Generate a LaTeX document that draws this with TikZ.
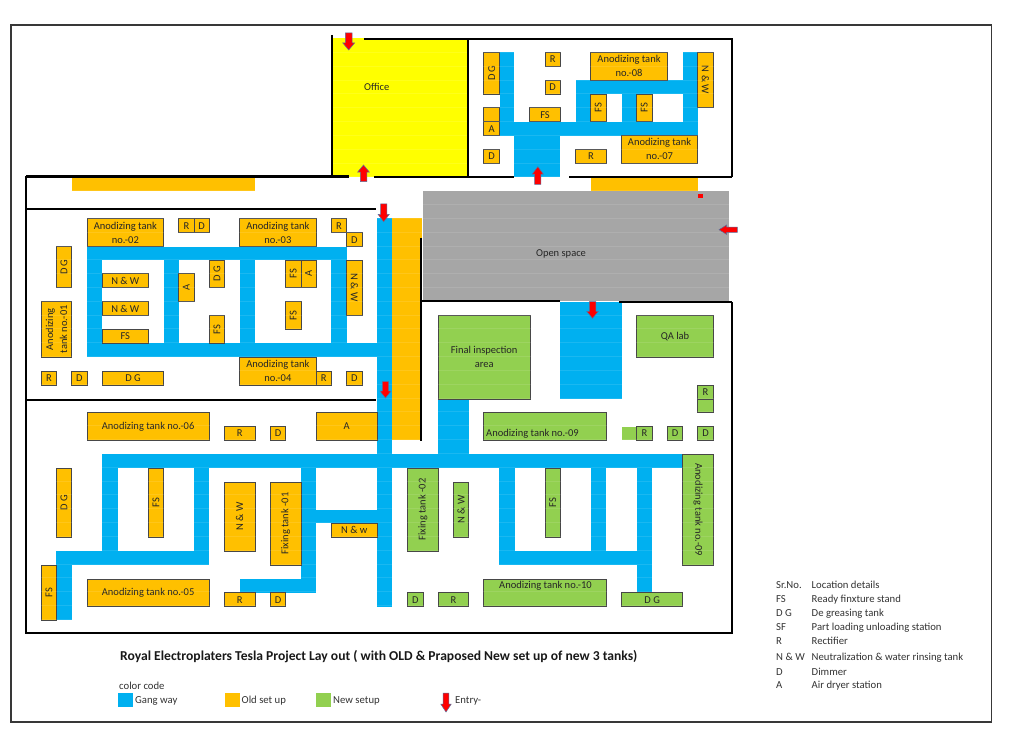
\documentclass[tikz,border=0pt]{standalone}
\usepackage{fontspec}
\setmainfont{Carlito}
\definecolor{gblue}{HTML}{00B0F0}
\definecolor{oldc}{HTML}{FFC000}
\definecolor{newc}{HTML}{92D050}
\definecolor{yelc}{HTML}{FFFF00}
\definecolor{greyc}{HTML}{A6A6A6}
\definecolor{redc}{HTML}{FF0000}
\definecolor{arrowedge}{HTML}{5B6F9C}
\tikzset{
  tankbase/.style={draw=black!72,line width=0.9pt,inner sep=0pt,outer sep=0pt,align=center,
    font=\fontsize{10.5}{14}\selectfont,text=black!85},
  old/.style={tankbase,fill=oldc},
  new/.style={tankbase,fill=newc},
  wall/.style={line width=2.2pt,black,line cap=square},
  frameline/.style={line width=1.4pt,black!78},
  label/.style={inner sep=0pt,font=\fontsize{10.5}{14}\selectfont,text=black!85,align=center},
  legend/.style={inner sep=0pt,anchor=west,text height=7.5pt,text depth=2.5pt,font=\fontsize{10.7}{12}\selectfont,text=black!80},
  redarrow/.style={fill=redc,draw=arrowedge,line width=0.5pt,line join=miter},
}
% style, name, angle, x1, y1, x2, y2, text
\newcommand\tk[8]{%
  \pgfmathsetmacro\tkw{#6-(#4)}\pgfmathsetmacro\tkh{#7-(#5)}%
  \pgfmathsetmacro\tkx{(#4+#6)/2}\pgfmathsetmacro\tky{(#5+#7)/2}%
  \ifnum#3=0\relax
    \node[#1,minimum width=\tkw pt,minimum height=\tkh pt] (#2) at (\tkx,\tky) {#8};
  \else
    \node[#1,rotate=#3,minimum width=\tkh pt,minimum height=\tkw pt] (#2) at (\tkx,\tky) {#8};
  \fi}
\newcommand\gw[4]{\fill[gblue] (#1,#2) rectangle (#3,#4);}
% tip x, tip y, direction angle, overall length, head width
\newcommand\redarr[5]{%
  \begin{scope}[shift={(#1,#2)},rotate=#3]
    \draw[redarrow] (0,0) -- (-#4*0.42,{#5/2}) -- (-#4*0.42,{#5*0.28}) -- (-#4,{#5*0.28})
      -- (-#4,{-#5*0.28}) -- (-#4*0.42,{-#5*0.28}) -- (-#4*0.42,{-#5/2}) -- cycle;
  \end{scope}}
\begin{document}
\begin{tikzpicture}[x=1pt,y=-1pt]
\useasboundingbox (0,0) rectangle (1013,751);
\fill[white] (0,0) rectangle (1013,751);
\draw[frameline] (11,25) rectangle (991.5,722);
% area fills
\fill[yelc] (331.7,38.3) rectangle (467.7,176.7);
\fill[greyc] (422.7,190.7) rectangle (728.7,301);
\fill[oldc] (71.7,177.3) rectangle (255,190.7);
\fill[oldc] (590.7,176.7) rectangle (697.7,190.7);
\fill[oldc] (392,218.3) rectangle (421.7,440.3);
% gang ways: top right room
\gw{499.7}{52.3}{514.3}{135.7}
\gw{499.7}{121.7}{697.7}{135.7}
\gw{514.3}{135}{560.3}{176.7}
\gw{575.7}{80}{697.7}{94}
\gw{575.7}{80}{590.7}{122}
\gw{621.7}{94}{636.7}{122}
\gw{682.7}{52.3}{697.7}{135}
% gang ways: left room
\gw{87}{246.7}{346.7}{260}
\gw{87}{343.3}{392}{357}
\gw{87}{246.7}{102.3}{357}
\gw{163.7}{246.7}{178.7}{357}
\gw{239.7}{246.7}{255}{357}
\gw{331.3}{246.7}{346.7}{357}
\gw{377.3}{218.3}{392}{606.7}
% gang ways: lower hall
\gw{102.3}{454.3}{682.7}{468}
\gw{102.3}{454.3}{117.7}{551}
\gw{194}{454.3}{209.3}{565}
\gw{56.3}{551}{209.3}{565}
\gw{56.3}{551}{71.7}{620}
\gw{301}{454.3}{316}{592.7}
\gw{239.7}{579}{316}{592.7}
\gw{316}{509.7}{377.3}{523.3}
\gw{438.3}{399}{468.7}{454.3}
\gw{560.3}{301.7}{621.7}{398.7}
\gw{499.3}{454.3}{514.7}{565}
\gw{499.3}{551}{652}{565}
\gw{591}{454.3}{606}{551}
\gw{637}{454.3}{652}{592.7}
% top right room
\tk{old}{dg1}{90}{483.7}{52.3}{499.7}{94}{D G}
\tk{old}{r1}{0}{545}{52.3}{560.3}{66.3}{R}
\tk{old}{d1}{0}{545}{80}{560.3}{94}{D}
\tk{old}{at8}{0}{590.7}{52.3}{667.3}{80}{Anodizing tank\\no.-08}
\tk{old}{nw1}{-90}{697.7}{52.3}{713.3}{107.7}{N \& W}
\tk{old}{fs1}{0}{529.7}{107.7}{560.3}{121.7}{FS}
\tk{old}{fs2}{90}{590.7}{94}{606}{121.7}{FS}
\tk{old}{fs3}{90}{636.7}{94}{652}{121.7}{FS}
\tk{old}{ab1}{0}{483.7}{107.7}{499.7}{121.7}{}
\tk{old}{a1}{0}{483.7}{121.7}{499.7}{135.7}{A}
\tk{old}{d2}{0}{483.7}{149}{499.7}{163.3}{D}
\tk{old}{r2}{0}{575.7}{149}{606}{163.3}{R}
\tk{old}{at7}{0}{621.3}{135}{697.7}{163.3}{Anodizing tank\\no.-07}
% left room
\tk{old}{at2}{0}{87}{218.7}{163.7}{246.7}{Anodizing tank\\no.-02}
\tk{old}{r3}{0}{178.7}{218.7}{194}{232.7}{R}
\tk{old}{d3}{0}{194}{218.7}{209.3}{232.7}{D}
\tk{old}{at3}{0}{239.7}{218.7}{316}{246.7}{Anodizing tank\\no.-03}
\tk{old}{r4}{0}{331.3}{218.7}{346.7}{232.7}{R}
\tk{old}{d4}{0}{346.7}{232.7}{362}{246.7}{D}
\tk{old}{dg2}{90}{56.3}{246.7}{71.7}{287.7}{D G}
\tk{old}{at1}{90}{41.3}{301.7}{71.7}{357}{Anodizing\\tank no.-01}
\tk{old}{nw2}{0}{102.3}{273.7}{148.3}{287.7}{N \& W}
\tk{old}{nw3}{0}{102.3}{301.7}{148.3}{315.7}{N \& W}
\tk{old}{fs4}{0}{102.3}{329.3}{148.3}{343.3}{FS}
\tk{old}{a2}{90}{178.7}{273.7}{194}{301.7}{A}
\tk{old}{dg3}{90}{209.3}{260}{224.7}{287.7}{D G}
\tk{old}{fs5}{90}{209.3}{315.7}{224.7}{343.3}{FS}
\tk{old}{fs6}{90}{285.7}{260}{301}{287.7}{FS}
\tk{old}{a3}{90}{301}{260}{316}{287.7}{A}
\tk{old}{fs7}{90}{285.7}{301.7}{301}{329.3}{FS}
\tk{old}{nw4}{-90}{346.7}{260}{362}{315.7}{N \& W}
\tk{old}{r5}{0}{41.3}{371}{56.7}{385}{R}
\tk{old}{d5}{0}{71.7}{371}{87}{385}{D}
\tk{old}{dg4}{0}{102.3}{371}{163.7}{385}{D G}
\tk{old}{at4}{0}{239.7}{357}{316}{385}{Anodizing tank\\no.-04}
\tk{old}{r6}{0}{316}{371}{331.3}{385}{R}
\tk{old}{d6}{0}{346.7}{371}{362}{385}{D}
% lower hall, old set up
\tk{old}{at6}{0}{87}{412.7}{209.3}{440.3}{Anodizing tank no.-06}
\tk{old}{r7}{0}{224.3}{426.7}{255}{440.3}{R}
\tk{old}{d7}{0}{270.3}{426.7}{285.7}{440.3}{D}
\tk{old}{a4}{0}{316}{412.7}{377.3}{440.3}{A}
\tk{old}{dg5}{90}{56.3}{468}{71.7}{537.3}{D G}
\tk{old}{fs8}{90}{148.3}{468}{163.7}{537.3}{FS}
\tk{old}{nw5}{90}{224.3}{482}{255}{551}{N \& W}
\tk{old}{fx1}{90}{270.3}{482}{301}{565}{Fixing tank -01}
\tk{old}{nw6}{0}{331.3}{523.3}{377.3}{537.3}{N \& w}
\tk{old}{r8}{0}{224.3}{592.7}{255}{606.7}{R}
\tk{old}{d8}{0}{270.3}{592.7}{285.7}{606.7}{D}
\tk{old}{at5}{0}{87}{579}{209.3}{606.7}{Anodizing tank no.-05}
\tk{old}{fs9}{90}{41.3}{565}{56.7}{620}{FS}
% new set up
\tk{new}{fia}{0}{438.3}{315.7}{530}{399}{Final inspection\\area}
\tk{new}{qa}{0}{636.7}{315.7}{713.3}{357}{QA lab}
\tk{new}{r9}{0}{697.7}{385}{713.3}{399}{R}
\tk{new}{bl9}{0}{697.7}{399}{713.3}{412.7}{}
\tk{new}{at9}{0}{483.7}{412.7}{606.3}{440.3}{}
\fill[newc] (621.7,426.7) rectangle (636.7,440.3);
\tk{new}{r10}{0}{636.7}{426.7}{652}{440.3}{R}
\tk{new}{d10}{0}{667.3}{426.7}{682.7}{440.3}{D}
\tk{new}{d11}{0}{697.7}{426.7}{713.3}{440.3}{D}
\tk{new}{at9v}{-90}{682.7}{454.3}{713.3}{565}{Anodizing tank no.-09}
\tk{new}{fs10}{90}{545}{468}{560.3}{537.3}{FS}
\tk{new}{fx2}{90}{407.7}{468}{438.3}{551}{Fixing tank -02}
\tk{new}{nw7}{90}{453.3}{482}{468.7}{537.3}{N \& W}
\tk{new}{d12}{0}{407.7}{592.7}{423}{606.7}{D}
\tk{new}{r12}{0}{438.3}{592.7}{468.7}{606.7}{R}
\tk{new}{at10}{0}{483.7}{579}{606.3}{606.7}{}
\tk{new}{dg6}{0}{621.7}{592.7}{682.7}{606.7}{D G}
% faint sheet row lines
\foreach \k in {0,...,41}{
  \pgfmathsetmacro\ry{52.3+13.83*\k}
  \draw[white,opacity=0.1,line width=0.8pt] (26,\ry) -- (732,\ry);
}
% texts placed off-centre or on plain areas
\node[label,anchor=west] (at9t) at (486,433.6) {Anodizing tank no.-09};
\node[label] (at10t) at (545.5,586) {Anodizing tank no.-10};
\node[label] (off) at (376.7,87.3) {Office};
\node[label] (open) at (561,253.5) {Open space};
% walls
\draw[wall] (331.7,35) -- (331.7,177);
\draw[wall] (364.3,39) -- (732,39) -- (732,177);
\draw[wall] (468.3,39) -- (468.3,177);
\draw[wall] (569.3,176.7) -- (732,176.7);
\draw[wall] (374.3,177) -- (514,177);
\draw[wall] (26,176.5) -- (349.3,176.5);
\draw[wall] (26,209.3) -- (376,209.3);
\draw[wall] (26,399.7) -- (376,399.7);
\draw[wall] (26,176.5) -- (26,632.7) -- (731.7,632.7) -- (731.7,302);
\draw[wall] (421,238) -- (421,440.7);
\draw[wall] (421,301) -- (560,301);
\draw[wall] (619,302) -- (731.7,302);
% entry arrows
\redarr{348.7}{50}{-90}{17}{12}
\redarr{363.5}{165}{90}{16.7}{11.6}
\redarr{537.8}{166.7}{90}{17.6}{11}
\redarr{383.7}{221.7}{-90}{17.7}{11.3}
\redarr{719}{229.7}{180}{18.3}{9.5}
\redarr{592.5}{318.3}{-90}{16.6}{11.6}
\redarr{385.5}{398}{-90}{16.3}{11}
\fill[redc] (697.7,194.3) rectangle (703.3,197.7);
% title
\node[inner sep=0pt,anchor=west,font=\bfseries\fontsize{13.6}{16}\selectfont,text=black!90] (title) at (120,657) {Royal Electroplaters Tesla Project Lay out ( with OLD \& Praposed New set up of new 3 tanks)};
% colour code
\node[legend] (cc) at (119,687) {color code};
\fill[gblue] (118,693.3) rectangle (132.5,707);
\node[legend] (lg1) at (135,701) {Gang way};
\fill[oldc] (224.6,693.3) rectangle (240,707);
\node[legend] (lg2) at (241.5,701) {Old set up};
\fill[newc] (316,693.3) rectangle (331,707);
\node[legend] (lg3) at (333,701) {New setup};
\redarr{446}{712}{-90}{19}{10.5}
\node[legend] (lg4) at (455,701) {Entry-};
% key
\foreach \yy/\aa/\bb in {586/Sr.No./Location details,
  600/FS/Ready finxture stand,
  614/D G/De greasing tank,
  627.5/SF/Part loading unloading station,
  641.5/R/Rectifier,
  658/N \& W/Neutralization \& water rinsing tank,
  672.5/D/Dimmer,
  686/A/Air dryer station}{
  \node[legend] at (776,\yy) {\aa};
  \node[legend] at (811.5,\yy) {\bb};
}
\end{tikzpicture}
\end{document}
